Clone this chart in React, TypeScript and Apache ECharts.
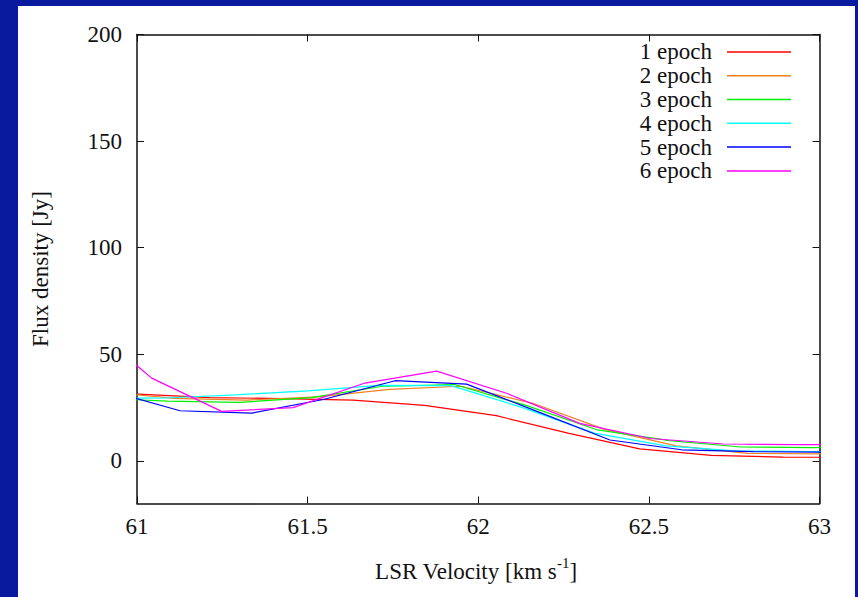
import React, { useEffect, useRef } from "react";
import * as echarts from "echarts";

const epochNames = ["1 epoch", "2 epoch", "3 epoch", "4 epoch", "5 epoch", "6 epoch"];
const epochColors = ["#ff0000", "#f08020", "#00f000", "#00ffff", "#0000ff", "#ff00ff"];

const vel1 = [61.003, 61.213, 61.423, 61.633, 61.843, 62.053, 62.263, 62.473, 62.683, 62.893, 63.103];
const flux1 = [31.3, 29.7, 29.2, 28.5, 26.0, 21.2, 13.0, 5.6, 2.6, 1.8, 1.6];

const vel2 = [60.9, 61.11, 61.32, 61.53, 61.74, 61.95, 62.16, 62.37, 62.58, 62.79, 63.0, 63.21];
const flux2 = [32.5, 29.3, 28.5, 30.0, 33.5, 35.0, 27.0, 14.8, 7.0, 3.5, 3.3, 3.3];

const vel3 = [60.88, 61.09, 61.3, 61.51, 61.72, 61.93, 62.14, 62.35, 62.56, 62.77, 62.98, 63.19];
const flux3 = [29.5, 28.0, 27.4, 29.7, 35.0, 35.8, 26.0, 14.5, 9.5, 6.5, 6.2, 7.0];

const vel4 = [60.87, 61.08, 61.29, 61.5, 61.71, 61.92, 62.13, 62.34, 62.55, 62.76, 62.97, 63.18];
const flux4 = [29.3, 29.5, 31.0, 32.8, 35.4, 35.3, 25.0, 13.0, 7.0, 4.6, 4.4, 4.4];

const vel5 = [60.916, 61.126, 61.336, 61.546, 61.756, 61.966, 62.176, 62.386, 62.596, 62.806, 63.016];
const flux5 = [32.9, 23.5, 22.4, 28.8, 37.6, 36.0, 23.0, 9.8, 5.2, 4.3, 4.1];

const vel6 = [60.835, 61.043, 61.248, 61.457, 61.668, 61.878, 62.085, 62.297, 62.505, 62.719, 62.927, 63.137];
const flux6 = [67.0, 38.8, 23.2, 25.0, 36.5, 42.1, 31.6, 17.6, 10.5, 7.9, 7.6, 7.6];

const yTickValues = [0, 50, 100, 150, 200];

const velocities = [vel1, vel2, vel3, vel4, vel5, vel6];
const fluxes = [flux1, flux2, flux3, flux4, flux5, flux6];

const FONT = "'Liberation Serif', 'Times New Roman', serif";
const FS = 23;
const INK = "#111111";

export default function App() {
  const ref = useRef<HTMLDivElement>(null);

  useEffect(() => {
    if (!ref.current) return;
    const chart = echarts.init(ref.current, undefined, { renderer: "svg" });

    const axisLineStyle = { color: INK, width: 1.5 };
    const tickStyle = { show: true, inside: true, length: 7, lineStyle: { color: INK, width: 1 } };

    const series = epochNames.map((name, i) => ({
      name,
      type: "line",
      xAxisIndex: 0,
      yAxisIndex: 0,
      data: velocities[i].map((v, j) => [v, fluxes[i][j]]),
      symbol: "none",
      showSymbol: false,
      clip: true,
      lineStyle: { color: epochColors[i], width: 1.2 },
      itemStyle: { color: epochColors[i] },
      z: 2 + i,
    }));

    chart.setOption({
      animation: false,
      backgroundColor: "transparent",
      grid: { left: 137, right: 38.5, top: 34.5, bottom: 93.5, containLabel: false },
      xAxis: [
        {
          type: "value",
          position: "bottom",
          min: 61,
          max: 63,
          interval: 0.5,
          axisLine: { show: true, onZero: false, lineStyle: axisLineStyle },
          axisTick: tickStyle,
          splitLine: { show: false },
          axisLabel: {
            show: true,
            margin: 11,
            color: INK,
            fontFamily: FONT,
            fontSize: FS,
            formatter: (v: number) => String(v),
          },
        },
        {
          type: "value",
          position: "top",
          min: 61,
          max: 63,
          interval: 0.5,
          axisLine: { show: true, onZero: false, lineStyle: axisLineStyle },
          axisTick: tickStyle,
          splitLine: { show: false },
          axisLabel: { show: false },
        },
      ],
      yAxis: [
        {
          type: "value",
          position: "left",
          min: -20,
          max: 200,
          axisLine: { show: true, onZero: false, lineStyle: axisLineStyle },
          axisTick: { ...tickStyle, customValues: yTickValues },
          splitLine: { show: false },
          axisLabel: {
            show: true,
            margin: 15,
            color: INK,
            fontFamily: FONT,
            fontSize: FS,
            customValues: yTickValues,
          },
        },
        {
          type: "value",
          position: "right",
          min: -20,
          max: 200,
          axisLine: { show: true, onZero: false, lineStyle: axisLineStyle },
          axisTick: { ...tickStyle, customValues: yTickValues },
          splitLine: { show: false },
          axisLabel: { show: false, customValues: yTickValues },
        },
      ],
      legend: {
        data: epochNames.map((name) => ({ name, icon: "rect" })),
        orient: "vertical",
        right: 67,
        top: 40,
        padding: 0,
        align: "right",
        icon: "rect",
        itemWidth: 64,
        itemHeight: 1.5,
        itemGap: 0,
        selectedMode: false,
        textStyle: {
          fontFamily: FONT,
          fontSize: FS,
          lineHeight: 23.8,
          color: INK,
          padding: [0, 10, 0, 0],
        },
      },
      graphic: [
        {
          type: "text",
          x: 40,
          y: 269,
          rotation: Math.PI / 2,
          style: {
            text: "Flux density [Jy]",
            font: `${FS}px ${FONT}`,
            fill: INK,
            align: "center",
            verticalAlign: "middle",
          },
        },
        {
          type: "text",
          x: 476,
          y: 569,
          style: {
            text: "{n|LSR Velocity [km s}{s|-1}{n|]}",
            fill: INK,
            align: "center",
            verticalAlign: "middle",
            rich: {
              n: { fontFamily: FONT, fontSize: FS, lineHeight: 27, fill: INK, verticalAlign: "bottom" },
              s: { fontFamily: FONT, fontSize: 15, lineHeight: 15, fill: INK, verticalAlign: "top" },
            },
          },
        },
      ],
      series,
    });

    return () => chart.dispose();
  }, []);

  return (
    <div style={{ position: "fixed", left: 0, top: 0, width: 858, height: 597, background: "#0a1a9e" }}>
      <div style={{ position: "absolute", left: 18, top: 6, width: 837, height: 591, background: "#ffffff" }} />
      <div ref={ref} style={{ position: "absolute", left: 0, top: 0, width: 858, height: 597 }} />
    </div>
  );
}
